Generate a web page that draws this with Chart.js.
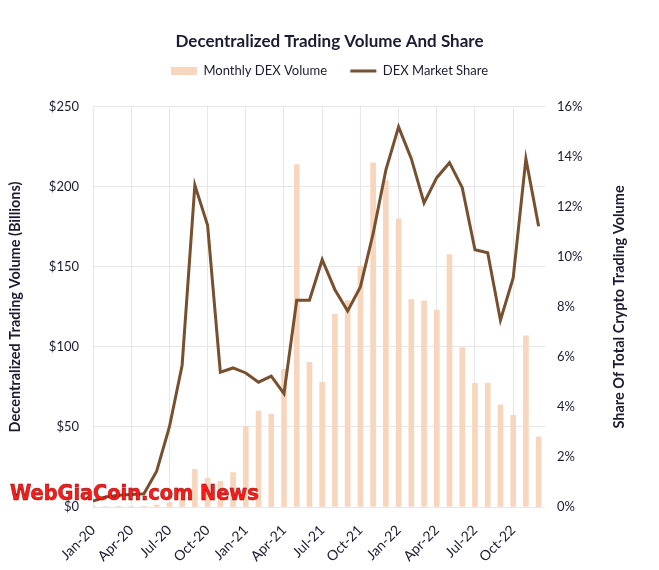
<!DOCTYPE html>
<html>
<head>
<meta charset="utf-8">
<script src="https://cdn.jsdelivr.net/npm/chart.js@4.4.0/dist/chart.umd.min.js"></script>
<style>
  body { margin: 0; background: #fff; }
  #wrap { position: relative; width: 659px; height: 570px; }
  #mark {
    position: absolute; left: 10px; top: 482px; line-height: 1;
    font-family: "Liberation Sans Narrow", "DejaVu Sans Condensed", sans-serif;
    font-weight: bold; font-size: 21.5px; color: #ff1a1a;
    -webkit-text-stroke: 0.5px #8a0000; white-space: nowrap;
  }
</style>
</head>
<body>
<div id="wrap">
  <canvas id="myChart" width="659" height="570"></canvas>
  <div id="mark">WebGiaCoin.com News</div>
</div>
<script>
var months = ["Jan-20","Feb-20","Mar-20","Apr-20","May-20","Jun-20","Jul-20","Aug-20","Sep-20","Oct-20","Nov-20","Dec-20",
              "Jan-21","Feb-21","Mar-21","Apr-21","May-21","Jun-21","Jul-21","Aug-21","Sep-21","Oct-21","Nov-21","Dec-21",
              "Jan-22","Feb-22","Mar-22","Apr-22","May-22","Jun-22","Jul-22","Aug-22","Sep-22","Oct-22","Nov-22","Dec-22"];
// monthly DEX volume, $ billions
var dexVolume = [0.3, 0.3, 0.5, 0.3, 0.4, 1.2, 2.7, 11, 23.5, 18, 16, 21.5,
                 50.4, 60, 58, 86, 214, 90.4, 78, 120.4, 129, 150.6, 215, 204,
                 180, 129.6, 128.8, 123, 157.7, 99.6, 77.3, 77.3, 63.8, 57.3, 107, 43.8];
// DEX share of total crypto trading volume, %
var dexShare = [0.24, 0.4, 0.47, 0.5, 0.53, 1.43, 3.2, 5.67, 12.87, 11.27, 5.39, 5.56,
                5.36, 4.99, 5.23, 4.53, 8.27, 8.27, 9.89, 8.69, 7.84, 8.8, 10.93, 13.47,
                15.2, 13.93, 12.16, 13.17, 13.77, 12.77, 10.29, 10.17, 7.47, 9.16, 13.93, 11.23];
var volumeTicks = [0, 50, 100, 150, 200, 250];
var shareTicks = [0, 2, 4, 6, 8, 10, 12, 14, 16];

var textColor = '#1c1b33';
var font = 'Lato';
var rightTitle = 'Share Of Total Crypto Trading Volume';

// right axis title reads bottom-to-top like the left one
var rightTitlePlugin = {
  id: 'rightTitle',
  afterDraw: function (chart) {
    var c = chart.ctx, area = chart.chartArea;
    c.save();
    c.translate(619, (area.top + area.bottom) / 2);
    c.rotate(-Math.PI / 2);
    c.font = 'bold 14.5px ' + font;
    c.fillStyle = textColor;
    c.textAlign = 'center';
    c.textBaseline = 'middle';
    c.fillText(rightTitle, 0, 0);
    c.restore();
  }
};

var ctx = document.getElementById('myChart').getContext('2d');
var myChart = new Chart(ctx, {
  type: 'bar',
  data: {
    datasets: [{
      type: 'bar',
      label: 'Monthly DEX Volume',
      data: dexVolume.map(function (v, i) { return {x: i, y: v}; }),
      backgroundColor: '#f8d6bd',
      borderWidth: 0,
      barThickness: 5,
      yAxisID: 'y',
      order: 1
    }, {
      type: 'line',
      label: 'DEX Market Share',
      data: dexShare.map(function (v, i) { return {x: i, y: v}; }),
      borderColor: '#77502f',
      backgroundColor: '#77502f',
      borderWidth: 3,
      pointRadius: 0,
      tension: 0,
      yAxisID: 'y1',
      order: 0
    }]
  },
  plugins: [rightTitlePlugin],
  options: {
    responsive: false,
    animation: false,
    layout: { padding: 0 },
    plugins: {
      title: {
        display: true,
        text: 'Decentralized Trading Volume And Share',
        color: textColor,
        font: { family: font, size: 17, weight: 'bold' },
        padding: { top: 31, bottom: 3 }
      },
      subtitle: {
        // empty spacer between legend and plot
        display: true,
        text: '',
        position: 'top',
        weight: 500,
        font: { size: 1 },
        padding: { top: 0, bottom: 18.3 }
      },
      legend: {
        weight: 1000,
        labels: {
          color: textColor,
          font: { family: font, size: 13 },
          usePointStyle: true,
          pointStyleWidth: 26,
          boxHeight: 8,
          padding: 10,
          generateLabels: function (chart) {
            return chart.data.datasets.map(function (ds, i) {
              var isBar = ds.type === 'bar';
              return {
                text: isBar ? ds.label + '    ' : ds.label,
                fillStyle: ds.backgroundColor,
                strokeStyle: isBar ? ds.backgroundColor : ds.borderColor,
                lineWidth: isBar ? 0 : 3,
                pointStyle: isBar ? 'rect' : 'line',
                fontColor: textColor,
                datasetIndex: i
              };
            });
          }
        }
      },
      tooltip: { enabled: false }
    },
    scales: {
      x: {
        type: 'linear',
        offset: false,
        min: 0,
        max: 35.5,
        afterBuildTicks: function (scale) {
          scale.ticks = [];
          for (var i = 0; i < months.length; i += 3) scale.ticks.push({ value: i });
        },
        afterFit: function (scale) { scale.height = 63; },
        ticks: {
          callback: function (v) { return months[v]; },
          color: textColor,
          font: { family: font, size: 14 },
          minRotation: 45,
          maxRotation: 45,
          autoSkip: false,
          padding: 15
        },
        grid: { color: '#e6e6ec', drawTicks: false, offset: false },
        border: { display: false }
      },
      y: {
        position: 'left',
        min: 0,
        max: 250,
        afterBuildTicks: function (scale) {
          scale.ticks = volumeTicks.map(function (v) { return { value: v }; });
        },
        afterFit: function (scale) { scale.width = 93; },
        ticks: {
          callback: function (v) { return '$' + v; },
          color: textColor,
          font: { family: font, size: 13 },
          padding: 14
        },
        title: {
          display: true,
          text: 'Decentralized Trading Volume (Billions)',
          color: textColor,
          font: { family: font, size: 14.5, weight: 'bold' },
          padding: { top: 7, bottom: 0 }
        },
        grid: { color: '#e6e6ec', drawTicks: false },
        border: { display: false }
      },
      y1: {
        position: 'right',
        min: 0,
        max: 16,
        afterBuildTicks: function (scale) {
          scale.ticks = shareTicks.map(function (v) { return { value: v }; });
        },
        afterFit: function (scale) { scale.width = 114; },
        ticks: {
          callback: function (v) { return v + '%'; },
          color: textColor,
          font: { family: font, size: 13 },
          padding: 12
        },
        grid: { display: false, drawTicks: false },
        border: { display: false }
      }
    }
  }
});
</script>
</body>
</html>
